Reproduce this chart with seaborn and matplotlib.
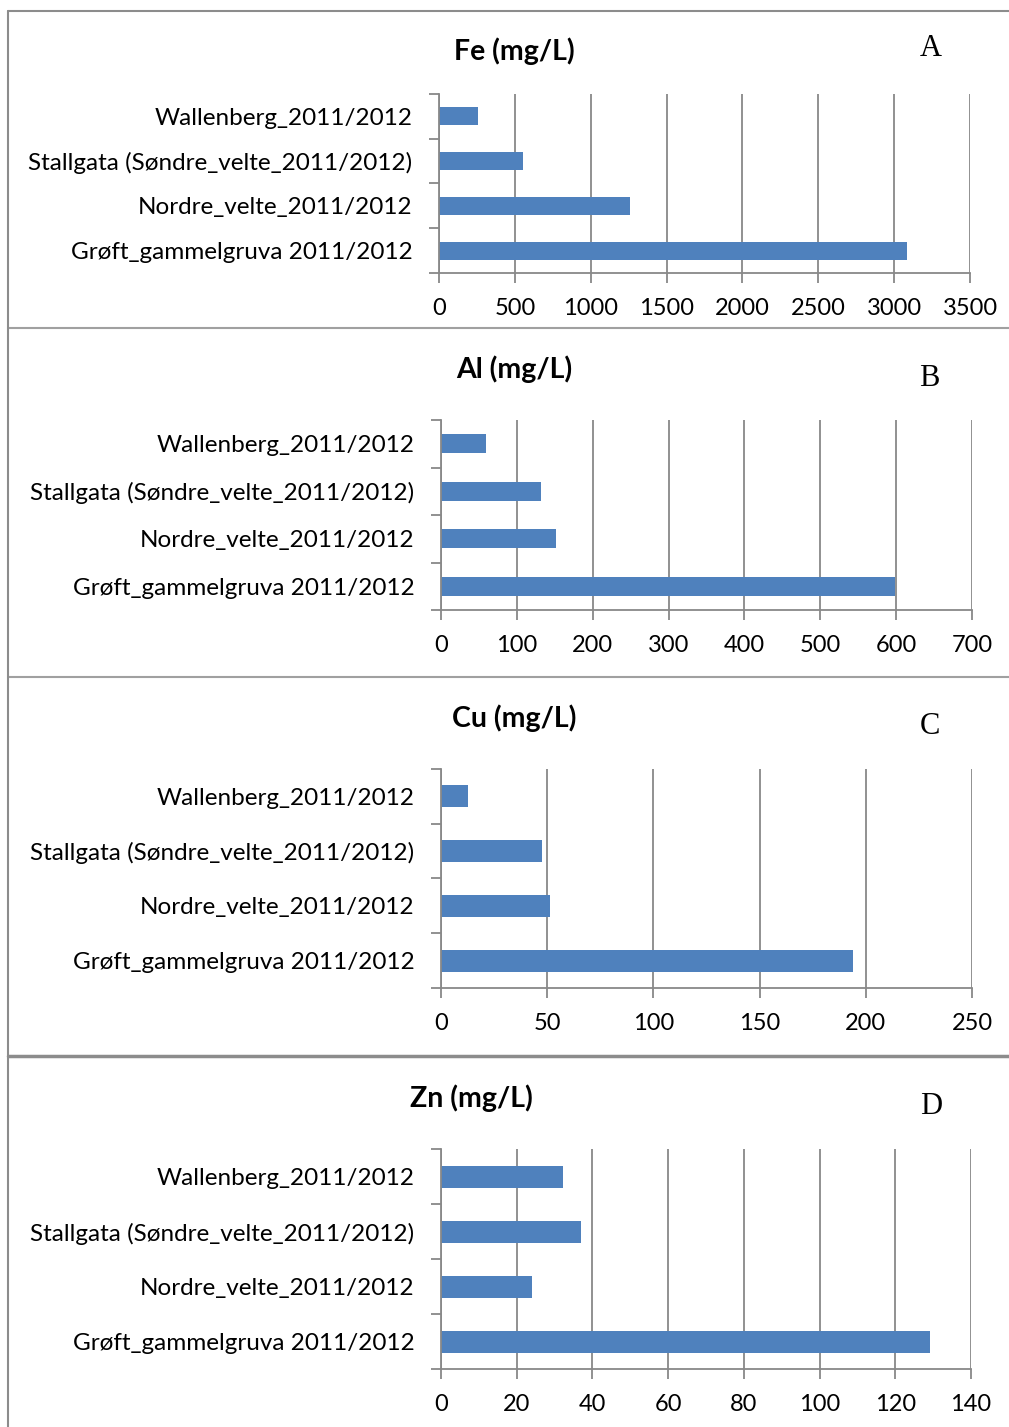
import matplotlib
matplotlib.use("Agg")
import matplotlib.pyplot as plt
from matplotlib.lines import Line2D
from matplotlib.ticker import FixedLocator
import seaborn as sns
import pandas as pd

sns.set_theme(style="white")
plt.rcParams['font.family'] = ['Lato', 'DejaVu Sans']

sites = ["Wallenberg_2011/2012",
         "Stallgata (Søndre_velte_2011/2012)",
         "Nordre_velte_2011/2012",
         "Grøft_gammelgruva 2011/2012"]

fe = [257, 555, 1262, 3083]
al = [59, 132, 152, 599]
cu = [12.6, 47.7, 51.3, 194.2]
zn = [32.1, 37.1, 24.0, 129.3]

titles = ["Fe (mg/L)", "Al (mg/L)", "Cu (mg/L)", "Zn (mg/L)"]
letters = ["A", "B", "C", "D"]
xmaxes = [3500, 700, 250, 140]
xsteps = [500, 100, 50, 20]

W, H = 1009, 1427
fig = plt.figure(figsize=(W / 100, H / 100), dpi=100)

# axes boxes in pixels: left, right, top, bottom
boxes = [(439, 970, 94, 273), (441, 972, 420, 610),
         (441, 972, 769, 988), (441, 971, 1149, 1369)]
title_pos = [(514, 51), (514, 369), (514, 718), (471, 1098)]
letter_pos = [(931, 49), (929, 378), (930, 727), (931, 1107)]

BAR = "#4F81BD"
GRID = "#888888"

for i, vals in enumerate([fe, al, cu, zn]):
    l, r, t, b = boxes[i]
    ax = fig.add_axes([l / W, 1 - b / H, (r - l) / W, (b - t) / H])
    df = pd.DataFrame({"site": sites, "value": vals})
    sns.barplot(data=df, x="value", y="site", orient="h", color=BAR,
                saturation=1, width=0.4, ax=ax, edgecolor="none")
    ax.set_xlim(0, xmaxes[i])
    ax.set_ylim(3.5, -0.5)
    ticks = list(range(0, xmaxes[i] + 1, xsteps[i]))
    ax.set_xticks(ticks)
    ax.set_xticklabels([str(v) for v in ticks], fontsize=17, color="black")
    ax.set_xlabel("")
    ax.set_ylabel("")
    ax.tick_params(axis="y", which="major", length=0, labelsize=17.5,
                   labelcolor="black", pad=19)
    ax.yaxis.set_minor_locator(FixedLocator([-0.5, 0.5, 1.5, 2.5, 3.5]))
    ax.tick_params(axis="y", which="minor", length=7, width=1.3,
                   color=GRID, left=True)
    ax.tick_params(axis="x", which="major", length=7, width=1.3,
                   color=GRID, bottom=True, pad=11)
    ax.grid(axis="x", color=GRID, linewidth=1.3)
    ax.grid(axis="y", visible=False)
    ax.set_axisbelow(True)
    for s in ["top", "right"]:
        ax.spines[s].set_visible(False)
    for s in ["left", "bottom"]:
        ax.spines[s].set_color(GRID)
        ax.spines[s].set_linewidth(1.3)
    tx, ty = title_pos[i]
    fig.text(tx / W, 1 - ty / H, titles[i], ha="center", va="center",
             fontsize=20.5, fontweight="bold", color="black")
    lx, ly = letter_pos[i]
    fig.text(lx / W, 1 - ly / H, letters[i], ha="center", va="center",
             fontsize=22, family="Liberation Serif", color="black")

# frame lines
def hline(y, lw=1.5, color="#8c8c8c"):
    fig.add_artist(Line2D([8 / W, 1], [1 - y / H, 1 - y / H],
                          transform=fig.transFigure, color=color, lw=lw))

hline(10.5)
hline(327.5, lw=1.5, color="#a0a0a0")
hline(677, lw=1.5, color="#a0a0a0")
hline(1055.5, lw=2.5, color="#8c8c8c")
fig.add_artist(Line2D([8 / W, 8 / W], [0, 1 - 10.5 / H],
                      transform=fig.transFigure, color="#8c8c8c", lw=1.5))

fig.savefig("out.png", dpi=100)
